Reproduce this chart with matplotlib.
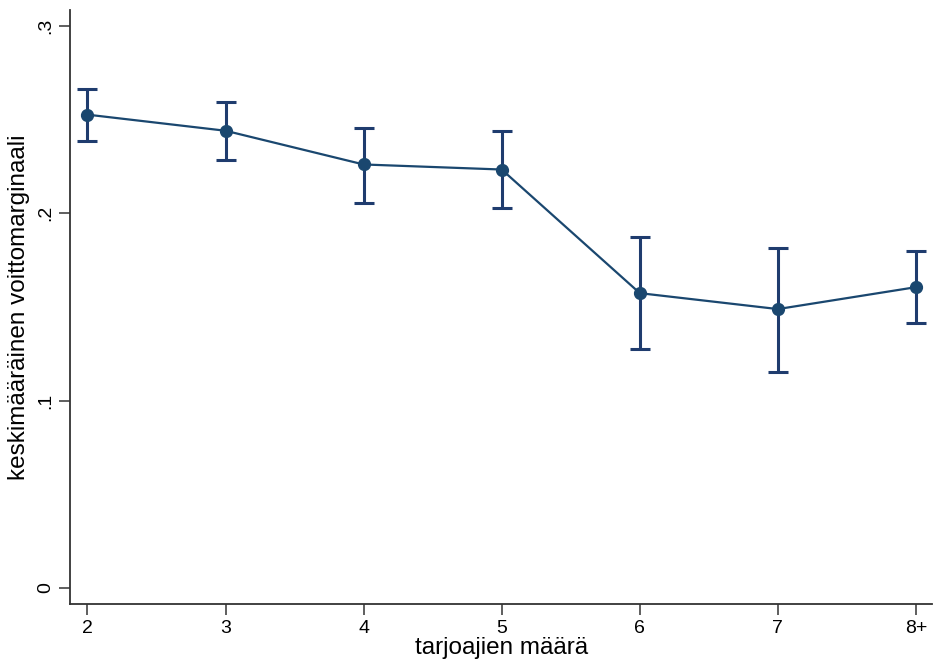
import matplotlib
matplotlib.use("Agg")
import matplotlib.pyplot as plt

categories = ["2", "3", "4", "5", "6", "7", "8+"]
means = [0.2527, 0.2441, 0.2261, 0.2234, 0.1574, 0.1489, 0.1606]
ci_low = [0.2388, 0.2287, 0.2053, 0.2027, 0.1277, 0.1154, 0.1415]
ci_high = [0.2665, 0.2596, 0.2457, 0.2441, 0.1872, 0.1814, 0.1798]
yticks = [0, 0.1, 0.2, 0.3]
yticklabels = ["0", ".1", ".2", ".3"]

plt.rcParams['font.family'] = ['Liberation Sans', 'DejaVu Sans']

fig = plt.figure(figsize=(9.36, 6.66), dpi=100)
ax = fig.add_axes([0.0753, 0.0938, 0.9204, 0.891])

x = list(range(len(categories)))
lower = [m - l for m, l in zip(means, ci_low)]
upper = [h - m for m, h in zip(means, ci_high)]

ax.errorbar(x, means, yerr=[lower, upper], fmt='none', ecolor='#1f3c6e',
            elinewidth=2.2, capsize=7, capthick=2.2, zorder=2)
ax.plot(x, means, color='#1a476f', lw=1.6, marker='o', ms=8.5,
        markerfacecolor='#1a476f', markeredgecolor='#1a476f', zorder=3)

ax.set_xlim(-0.123, 6.116)
ax.set_ylim(-0.0083, 0.3085)
ax.set_xticks(x)
ax.set_xticklabels(categories, fontsize=14)
ax.set_yticks(yticks)
ax.set_yticklabels(yticklabels, fontsize=14, rotation=90, va='center')

for s in ['top', 'right']:
    ax.spines[s].set_visible(False)
for s in ['left', 'bottom']:
    ax.spines[s].set_linewidth(1.3)
    ax.spines[s].set_color('#333333')
ax.tick_params(axis='both', length=8, width=1.1, color='#333333', pad=4)

ax.set_ylabel("keskimääräinen voittomarginaali", fontsize=17.5, labelpad=5)
ax.set_xlabel("tarjoajien määrä", fontsize=17.5, labelpad=0)

fig.savefig("out.png", dpi=100)
